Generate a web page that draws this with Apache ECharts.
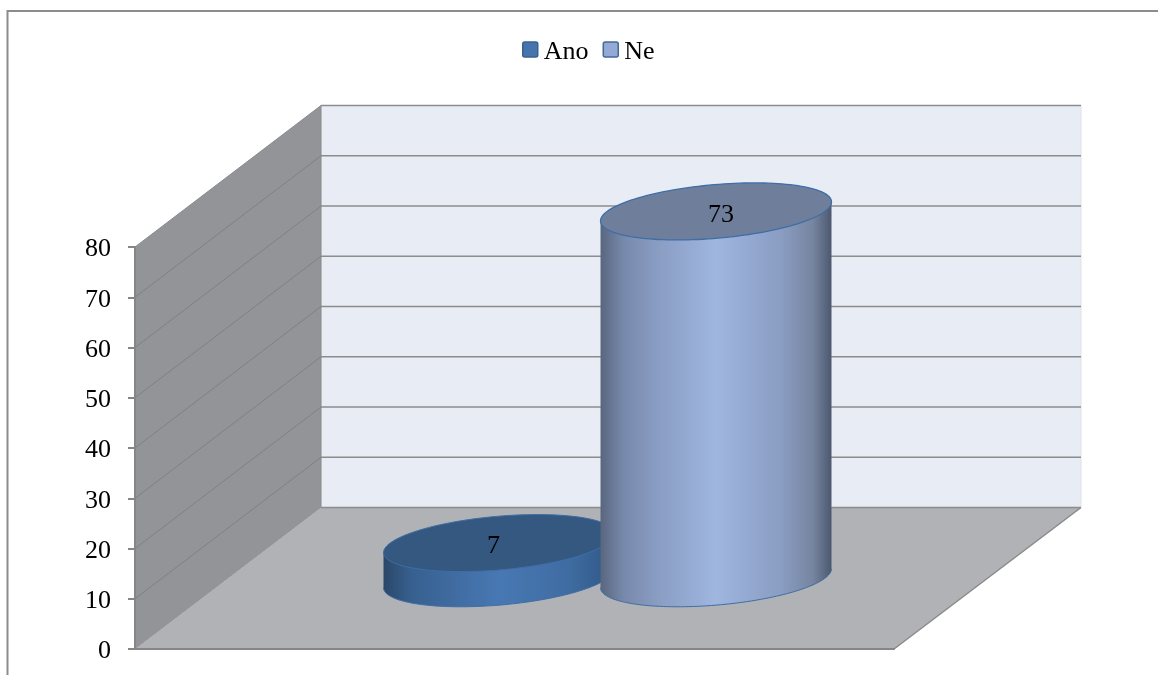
<!DOCTYPE html>
<html>
<head>
<meta charset="utf-8">
<style>html,body{margin:0;padding:0;background:#fff}#c{width:1158px;height:675px}</style>
<script src="https://cdn.jsdelivr.net/npm/echarts@6/dist/echarts.min.js"></script>
</head>
<body>
<div id="c"></div>
<script>
const categories = [''];
const seriesNames = ['Ano', 'Ne'];
const anoValues = [7];
const neValues = [73];
const yTicks = [0, 10, 20, 30, 40, 50, 60, 70, 80];

const FONT = '"Liberation Serif","Times New Roman",serif';
const DEPTH_X = 186, DEPTH_Y = -141.5;
const RX = 115.9, RY = 26.8, TILT = 4.97 * Math.PI / 180;
const chart = echarts.init(document.getElementById('c'), null, {renderer: 'canvas'});

function ellipsePt(cx, cy, t) {
  const u = [Math.cos(TILT), -Math.sin(TILT)], v = [Math.sin(TILT), Math.cos(TILT)];
  return [cx + RX * Math.cos(t) * u[0] + RY * Math.sin(t) * v[0],
          cy + RX * Math.cos(t) * u[1] + RY * Math.sin(t) * v[1]];
}
function arc(cx, cy, from, to, n) {
  const pts = [];
  for (let i = 0; i <= n; i++) pts.push(ellipsePt(cx, cy, from + (to - from) * i / n));
  return pts;
}
function grad(stops) {
  return new echarts.graphic.LinearGradient(0, 0, 1, 0, stops.map(s => ({offset: s[0], color: s[1]})));
}

function renderWalls(params, api) {
  const o = api.coord([0, 0]);
  const band = api.size([1, 0])[0];
  const x0 = o[0] - band / 2, x1 = o[0] + band / 2;
  const yAt = v => api.coord([0, v])[1];
  const y0 = yAt(0), yTop = yAt(yTicks[yTicks.length - 1]);
  const backL = x0 + DEPTH_X, backR = x1 + DEPTH_X + 1;
  const children = [
    {type: 'polygon', shape: {points: [[backL, yTop + DEPTH_Y], [backR, yTop + DEPTH_Y], [backR, y0 + DEPTH_Y], [backL, y0 + DEPTH_Y]]},
      style: {fill: '#e8ecf5', stroke: '#dfe2ea', lineWidth: 1}},
    {type: 'polygon', shape: {points: [[x0, yTop], [backL, yTop + DEPTH_Y], [backL, y0 + DEPTH_Y], [x0, y0]]},
      style: {fill: '#929497', stroke: '#8a8c90', lineWidth: 1}},
    {type: 'polygon', shape: {points: [[x0, y0], [x1, y0], [backR, y0 + DEPTH_Y], [backL, y0 + DEPTH_Y]]},
      style: {fill: '#b0b2b6'}},
    {type: 'line', shape: {x1: x1, y1: y0, x2: backR, y2: y0 + DEPTH_Y}, style: {stroke: '#8a8a8a', lineWidth: 1.5}}
  ];
  yTicks.forEach(v => {
    const y = yAt(v);
    children.push({type: 'line', shape: {x1: backL, y1: y + DEPTH_Y, x2: backR, y2: y + DEPTH_Y},
      style: {stroke: '#8c8c8c', lineWidth: 1.6}});
    if (v > 0 && v < yTicks[yTicks.length - 1]) {
      children.push({type: 'line', shape: {x1: x0, y1: y, x2: backL, y2: y + DEPTH_Y},
        style: {stroke: '#7e8084', lineWidth: 1}});
    }
  });
  return {type: 'group', children};
}

function cylinder(cfg) {
  return function (params, api) {
    const value = api.value(1);
    const p0 = api.coord([api.value(0), 0]);
    const pv = api.coord([api.value(0), value]);
    const cx = p0[0] + DEPTH_X / 2 + cfg.shift;
    const cyB = p0[1] + DEPTH_Y / 2, cyT = pv[1] + DEPTH_Y / 2;
    const t0 = Math.atan(RY / RX * Math.tan(TILT));
    const bottom = arc(cx, cyB, t0, t0 + Math.PI, 80);
    const body = bottom.concat([ellipsePt(cx, cyT, t0 + Math.PI), ellipsePt(cx, cyT, t0)]);
    const top = arc(cx, cyT, 0, Math.PI * 2, 140);
    return {type: 'group', children: [
      {type: 'polygon', shape: {points: body}, style: {fill: grad(cfg.body)}},
      {type: 'polyline', shape: {points: bottom}, style: {fill: 'none', stroke: cfg.edge, lineWidth: 1}},
      {type: 'polygon', shape: {points: top}, style: {fill: cfg.top, stroke: cfg.edge, lineWidth: cfg.edgeW}},
      {type: 'text', x: cx + cfg.nudge[0], y: cyT + cfg.nudge[1],
        style: {text: String(value), font: '26px ' + FONT, fill: '#000', align: 'center', verticalAlign: 'middle'}}
    ]};
  };
}

const anoStyle = {
  shift: -108.5, nudge: [-5.5, 3], top: '#34587f', edge: '#3f6ea6', edgeW: 1,
  body: [[0, '#2b4768'], [0.12, '#37608f'], [0.5, '#4878b3'], [0.8, '#3f6ca2'], [1, '#2f5785']]
};
const neStyle = {
  shift: 108.5, nudge: [5, 4], top: '#6f7f9b', edge: '#3f6ea6', edgeW: 1.3,
  body: [[0, '#59667f'], [0.1, '#7789ab'], [0.25, '#8a9dc3'], [0.5, '#9fb6df'], [0.78, '#8a9dc3'], [0.92, '#76859f'], [1, '#4c5870']]
};

chart.setOption({
  animation: false,
  backgroundColor: '#fff',
  graphic: [
    {type: 'line', z: 0, shape: {x1: 7, y1: 11, x2: 1158, y2: 11}, style: {stroke: '#8c8c8c', lineWidth: 2}},
    {type: 'line', z: 0, shape: {x1: 7.5, y1: 10, x2: 7.5, y2: 675}, style: {stroke: '#8c8c8c', lineWidth: 2}}
  ],
  legend: {
    left: 522, top: 39.5, padding: 0, itemWidth: 15, itemHeight: 15, itemGap: 14,
    icon: 'path://M2 0H13Q15 0 15 2V13Q15 15 13 15H2Q0 15 0 13V2Q0 0 2 0Z',
    formatter: '{t|{name}}',
    textStyle: {
      fontFamily: FONT, fontSize: 26, color: '#000',
      rich: {t: {fontFamily: FONT, fontSize: 26, color: '#000', padding: [6, 0, 0, 1]}}
    },
    data: [
      {name: seriesNames[0], itemStyle: {color: '#4675ad', borderColor: '#38618f', borderWidth: 1.5}},
      {name: seriesNames[1], itemStyle: {color: '#94a9d4', borderColor: '#41699a', borderWidth: 1.5}}
    ]
  },
  grid: {left: 135, top: 247, width: 759, height: 402, containLabel: false},
  xAxis: {
    type: 'category', data: categories, z: 6,
    axisTick: {show: false}, axisLabel: {show: false},
    axisLine: {lineStyle: {color: '#868686', width: 2}}, splitLine: {show: false}
  },
  yAxis: {
    type: 'value', min: 0, max: 80, interval: 10, z: 6,
    axisLine: {show: true, lineStyle: {color: '#868686', width: 2}},
    axisTick: {show: true, length: 7, lineStyle: {color: '#868686', width: 2}},
    axisLabel: {
      margin: 24, formatter: '{t|{value}}',
      rich: {t: {fontFamily: FONT, fontSize: 26, color: '#000', padding: [5, 0, 0, 0]}}
    },
    splitLine: {show: false}
  },
  series: [
    {type: 'custom', name: 'walls', silent: true, z: 1, renderItem: renderWalls, data: [[0, 0]], encode: {x: 0, y: 1}},
    {type: 'custom', name: seriesNames[0], z: 3, renderItem: cylinder(anoStyle), data: anoValues.map((v, i) => [i, v]), encode: {x: 0, y: 1}, itemStyle: {color: '#4675ad'}},
    {type: 'custom', name: seriesNames[1], z: 4, renderItem: cylinder(neStyle), data: neValues.map((v, i) => [i, v]), encode: {x: 0, y: 1}, itemStyle: {color: '#94a9d4'}}
  ]
});
</script>
</body>
</html>
